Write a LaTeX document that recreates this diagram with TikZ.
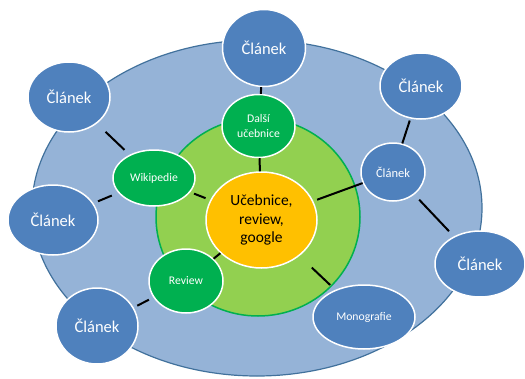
\documentclass[tikz,border=0pt]{standalone}
\usepackage{fontspec}
\setmainfont{Carlito}
\usetikzlibrary{shapes.geometric}
\definecolor{skyfill}{HTML}{95B3D7}
\definecolor{skyline}{HTML}{41719C}
\definecolor{ringfill}{HTML}{92D050}
\definecolor{ringline}{HTML}{00B050}
\definecolor{bluenode}{HTML}{4F81BD}
\definecolor{greennode}{HTML}{00B050}
\definecolor{corefill}{HTML}{FFC000}

\begin{document}
\begin{tikzpicture}[x=1pt,y=-1pt,
  bub/.style={ellipse,draw=white,line width=1.5pt,inner sep=0pt,align=center,text=white},
  bluebub/.style={bub,fill=bluenode},
  greenbub/.style={bub,fill=greennode},
  bigtxt/.style={font=\fontsize{16.5}{19}\selectfont},
  smalltxt/.style={font=\fontsize{11.7}{15}\selectfont},
  link/.style={draw=black,line width=2pt}]
\useasboundingbox (0,0) rectangle (525,378);
% background rings
\draw[skyline,fill=skyfill,line width=1.2pt](257,208) ellipse [x radius=225,y radius=168];
\draw[ringline,fill=ringfill,line width=1.5pt](258,217) ellipse [x radius=102,y radius=99];
% centre
\node[bub,fill=corefill,text=black,minimum width=111pt,minimum height=96pt,font=\fontsize{15.5}{18.5}\selectfont] (core) at (261.5,220) {Učebnice,\\review,\\google};
% inner nodes
\node[greenbub,smalltxt,minimum width=73pt,minimum height=63pt] (dalsi) at (258.5,126) {Další\\učebnice};
\node[greenbub,smalltxt,minimum width=82pt,minimum height=56pt] (wiki) at (154,178) {Wikipedie};
\node[greenbub,smalltxt,minimum width=74pt,minimum height=64pt] (review) at (186,281) {Review};
\node[bluebub,smalltxt,minimum width=64pt,minimum height=58pt,font=\fontsize{12.5}{15}\selectfont] (clanekM) at (393,172) {Článek};
\node[bluebub,smalltxt,minimum width=102pt,minimum height=64pt] (mono) at (364,317) {Monografie};
% outer nodes
\node[bluebub,bigtxt,minimum width=83pt,minimum height=77pt] (clanekTop) at (264,48) {Článek};
\node[bluebub,bigtxt,minimum width=82pt,minimum height=70pt] (clanekTL) at (69,97) {Článek};
\node[bluebub,bigtxt,minimum width=82pt,minimum height=66pt] (clanekTR) at (421,86) {Článek};
\node[bluebub,bigtxt,minimum width=90pt,minimum height=70pt] (clanekL) at (53,220) {Článek};
\node[bluebub,bigtxt,minimum width=82pt,minimum height=76pt] (clanekBL) at (97,326) {Článek};
\node[bluebub,bigtxt,minimum width=90pt,minimum height=66pt] (clanekR) at (480,264) {Článek};
% connectors
\draw[link,shorten <=12pt,shorten >=7pt] (clanekTL) -- (wiki);
\draw[link] (clanekTop) -- (dalsi);
\draw[link] (dalsi) -- (core);
\draw[link,shorten <=4pt,shorten >=5pt] (wiki) -- (core);
\draw[link,shorten <=7pt,shorten >=5pt] (wiki) -- (clanekL);
\draw[link] (review) -- (core);
\draw[link,shorten <=5pt,shorten >=4pt] (review) -- (clanekBL);
\draw[link,shorten <=4pt] (core) -- (clanekM);
\draw[link,shorten >=2pt] (clanekM) -- (clanekTR);
\draw[link,shorten <=7pt,shorten >=7pt] (clanekM) -- (clanekR);
\draw[link,shorten <=17pt,shorten >=7pt] (core) -- (mono);
\end{tikzpicture}
\end{document}
